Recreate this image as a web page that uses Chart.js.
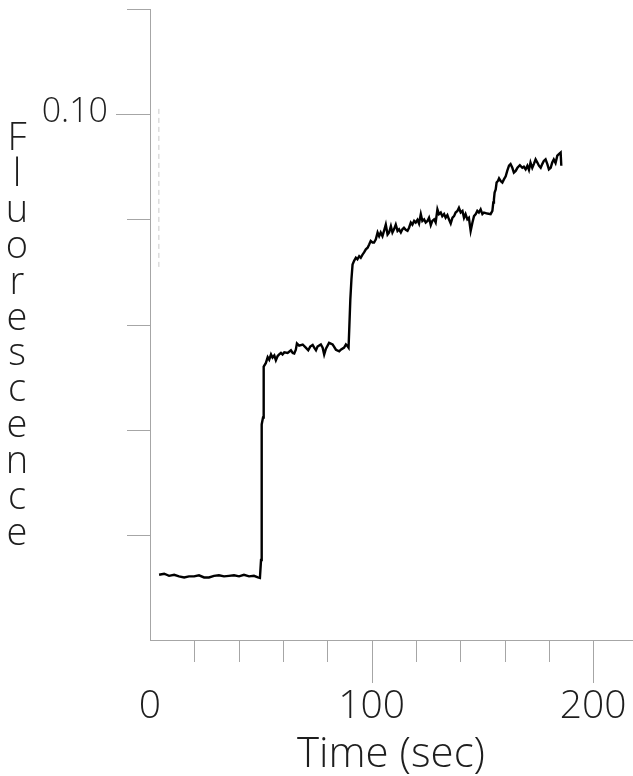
<!DOCTYPE html>
<html>
<head>
<meta charset="utf-8">
<script src="https://cdn.jsdelivr.net/npm/chart.js@4"></script>
<style>
  html, body { margin: 0; padding: 0; background: #ffffff; }
  #wrap { width: 633px; height: 776px; }
</style>
</head>
<body>
<div id="wrap"><canvas id="c" width="633" height="776"></canvas></div>
<script>
// ---- data ----
const timeSec = [
  4.1, 6.4, 8.6, 10.9, 13.1, 15.4, 17.6, 19.9, 22.1, 24.4, 26.6, 28.9, 31.1, 33.4, 35.6, 37.9, 40.2, 42.4, 44.7, 46.9, 48.7, 49.6,
  50.1, 50.3, 50.5, 51.0, 51.2, 51.4,
  52.3, 53.1, 53.8, 54.6, 55.3, 56.1, 56.8, 57.6, 58.3, 59.1, 59.8, 60.6, 62.1, 63.6, 64.4, 65.1, 65.8, 66.3, 67.3, 68.9, 70.3, 71.4,
  72.3, 73.4, 74.1, 74.9, 75.6, 77.1, 77.9, 78.6, 79.4, 80.8, 82.4, 83.9, 85.4, 86.1, 87.6, 88.4, 89.1, 89.6,
  89.9, 90.4, 90.9, 91.4,
  92.1, 92.9, 93.6, 94.4, 95.1, 95.9, 96.6, 97.4, 98.2, 98.9, 99.6, 100.4, 101.1, 101.9, 102.7, 103.4, 104.1, 104.9, 105.6, 106.4,
  107.2, 107.9, 108.7, 109.4, 110.1, 110.9, 111.7, 112.4, 113.2, 113.9, 114.6, 115.4, 116.2, 116.9, 117.7, 118.4, 119.2, 119.9,
  120.7, 121.4, 122.2, 122.9, 123.7, 124.4, 125.2, 125.9, 126.7, 127.4, 128.2, 128.9, 129.7, 130.4, 131.2, 131.9, 132.7, 133.4,
  134.2, 134.9, 135.7, 136.5, 137.2, 137.9, 138.7, 139.4, 140.2, 141.0, 141.7, 142.4, 143.2, 143.9, 144.7, 145.5, 146.2, 147.0,
  147.7, 148.4, 149.2, 150.0, 150.7, 152.2, 153.7, 154.5,
  154.9, 155.2, 155.5, 156.0, 156.4, 157.0, 157.5,
  158.2, 159.0, 159.7, 160.5, 161.2, 162.0, 162.7, 163.5, 164.2, 165.0, 165.8, 166.9, 168.0, 168.7, 169.5, 170.3, 171.0, 171.7,
  172.5, 173.2, 174.0, 174.8, 175.5, 176.3, 177.0, 177.7, 178.5, 179.3, 180.0, 180.8, 181.5, 182.2, 183.0, 183.8, 184.5, 185.3, 185.6
];
const fluorescence = [
  0.0124, 0.0126, 0.0122, 0.0124, 0.0121, 0.0119, 0.0121, 0.0121, 0.0123, 0.0119, 0.0119, 0.0122, 0.0123, 0.0121, 0.0122, 0.0123, 0.0121, 0.0124, 0.0121, 0.0122, 0.0119, 0.0118,
  0.0152, 0.0324, 0.0410, 0.0423, 0.0457, 0.0520,
  0.0527, 0.0538, 0.0533, 0.0543, 0.0537, 0.0541, 0.0532, 0.0540, 0.0543, 0.0546, 0.0543, 0.0547, 0.0546, 0.0551, 0.0546, 0.0545, 0.0552, 0.0564, 0.0560, 0.0562, 0.0556, 0.0551,
  0.0558, 0.0561, 0.0556, 0.0551, 0.0558, 0.0562, 0.0556, 0.0543, 0.0554, 0.0565, 0.0562, 0.0552, 0.0549, 0.0552, 0.0556, 0.0562, 0.0559, 0.0556,
  0.0590, 0.0648, 0.0686, 0.0714,
  0.0721, 0.0727, 0.0724, 0.0730, 0.0727, 0.0733, 0.0737, 0.0743, 0.0746, 0.0752, 0.0759, 0.0756, 0.0756, 0.0762, 0.0775, 0.0768, 0.0775, 0.0768, 0.0778, 0.0790,
  0.0771, 0.0775, 0.0787, 0.0775, 0.0781, 0.0790, 0.0778, 0.0781, 0.0775, 0.0781, 0.0784, 0.0780, 0.0778, 0.0784, 0.0794, 0.0790, 0.0797, 0.0794,
  0.0799, 0.0792, 0.0810, 0.0797, 0.0800, 0.0794, 0.0797, 0.0803, 0.0789, 0.0797, 0.0800, 0.0794, 0.0819, 0.0810, 0.0813, 0.0806, 0.0810, 0.0803,
  0.0808, 0.0800, 0.0792, 0.0803, 0.0806, 0.0813, 0.0816, 0.0822, 0.0813, 0.0816, 0.0803, 0.0810, 0.0800, 0.0803, 0.0778, 0.0794, 0.0806, 0.0810,
  0.0816, 0.0813, 0.0819, 0.0810, 0.0813, 0.0811, 0.0810, 0.0816,
  0.0832, 0.0838, 0.0851, 0.0857, 0.0870, 0.0873, 0.0878,
  0.0873, 0.0870, 0.0876, 0.0882, 0.0892, 0.0902, 0.0905, 0.0898, 0.0889, 0.0892, 0.0898, 0.0903, 0.0898, 0.0900, 0.0895, 0.0902, 0.0894, 0.0908,
  0.0898, 0.0905, 0.0914, 0.0908, 0.0902, 0.0898, 0.0905, 0.0911, 0.0914, 0.0905, 0.0895, 0.0898, 0.0908, 0.0914, 0.0907, 0.0921, 0.0924, 0.0927, 0.0902
];
// faint vertical scan mark near the start of the trace
const markTime = [4.0, 4.0];
const markValues = [0.1010, 0.0705];

const yTickValues = [0.02, 0.04, 0.06, 0.08, 0.10, 0.12];
const yLabelValues = [0.10];
const xTickValues = [20, 40, 60, 80, 100, 120, 140, 160, 180, 200];
const xLabelValues = [0, 100, 200];
const xTitle = 'Time (sec)';
const yTitle = 'Fluorescence';

const FONT = "'Open Sans', 'DejaVu Sans', sans-serif";
const AXIS_COLOR = '#a6a6a6';
const TEXT_COLOR = '#1e1e1e';

const near = (a, b) => Math.abs(a - b) < 1e-9;

function noAutoPadding(scale) {
  scale.paddingTop = 0;
  scale.paddingBottom = 0;
  scale.paddingLeft = 0;
  scale.paddingRight = 0;
}

const tickPlugin = {
  id: 'tickMarks',
  afterDraw(chart) {
    const { ctx, chartArea, scales } = chart;
    ctx.save();
    ctx.strokeStyle = AXIS_COLOR;
    ctx.lineWidth = 1;
    yTickValues.forEach(v => {
      const y = Math.round(scales.y.getPixelForValue(v)) + 0.5;
      const len = yLabelValues.some(l => near(l, v)) ? 34 : 23;
      ctx.beginPath();
      ctx.moveTo(chartArea.left - len, y);
      ctx.lineTo(chartArea.left, y);
      ctx.stroke();
    });
    xTickValues.forEach(t => {
      const x = Math.round(scales.x.getPixelForValue(t)) + 0.5;
      const len = xLabelValues.some(l => l === t) ? 43 : 22;
      ctx.beginPath();
      ctx.moveTo(x, chartArea.bottom);
      ctx.lineTo(x, chartArea.bottom + len);
      ctx.stroke();
    });
    // stacked vertical axis title
    ctx.fillStyle = TEXT_COLOR;
    ctx.font = "300 38px " + FONT;
    ctx.textAlign = 'center';
    ctx.textBaseline = 'alphabetic';
    const letters = yTitle.split('');
    letters.forEach((ch, i) => {
      ctx.fillText(ch, 17, 150 + i * 35.9);
    });
    ctx.restore();
  }
};

new Chart(document.getElementById('c'), {
  type: 'line',
  data: {
    datasets: [
      {
        label: 'Fluorescence',
        data: timeSec.map((t, i) => ({ x: t, y: fluorescence[i] })),
        borderColor: '#000000',
        borderWidth: 2.4,
        pointRadius: 0,
        tension: 0,
        fill: false
      },
      {
        label: 'mark',
        data: markTime.map((t, i) => ({ x: t, y: markValues[i] })),
        borderColor: 'rgba(150,150,150,0.5)',
        borderWidth: 1,
        borderDash: [5, 4],
        pointRadius: 0,
        fill: false
      }
    ]
  },
  options: {
    responsive: false,
    devicePixelRatio: 1,
    animation: false,
    layout: { padding: { top: 9, right: 1, left: 0, bottom: 0 } },
    plugins: { legend: { display: false }, tooltip: { enabled: false } },
    scales: {
      x: {
        type: 'linear',
        min: 0,
        max: 217.5,
        afterFit(scale) { scale.height = 136; noAutoPadding(scale); },
        border: { display: true, color: AXIS_COLOR, width: 1 },
        grid: { display: true, drawOnChartArea: false, drawTicks: false },
        ticks: {
          stepSize: 20,
          includeBounds: false,
          autoSkip: false,
          maxRotation: 0,
          padding: 43,
          color: TEXT_COLOR,
          font: { family: FONT, size: 39, weight: 300 },
          callback: v => (xLabelValues.includes(v) ? String(v) : '')
        },
        title: {
          display: true,
          text: xTitle,
          color: TEXT_COLOR,
          font: { family: FONT, size: 42, weight: 300 },
          padding: { top: 0, bottom: -4 }
        }
      },
      y: {
        type: 'linear',
        min: 0,
        max: 0.12,
        afterFit(scale) { scale.width = 150; noAutoPadding(scale); },
        border: { display: true, color: AXIS_COLOR, width: 1 },
        grid: { display: true, drawOnChartArea: false, drawTicks: false },
        ticks: {
          stepSize: 0.02,
          includeBounds: false,
          autoSkip: false,
          padding: 42,
          labelOffset: -2,
          color: TEXT_COLOR,
          font: { family: FONT, size: 34, weight: 300 },
          callback: v => (yLabelValues.some(l => near(l, v)) ? v.toFixed(2) : '')
        }
      }
    }
  },
  plugins: [tickPlugin]
});
</script>
</body>
</html>
